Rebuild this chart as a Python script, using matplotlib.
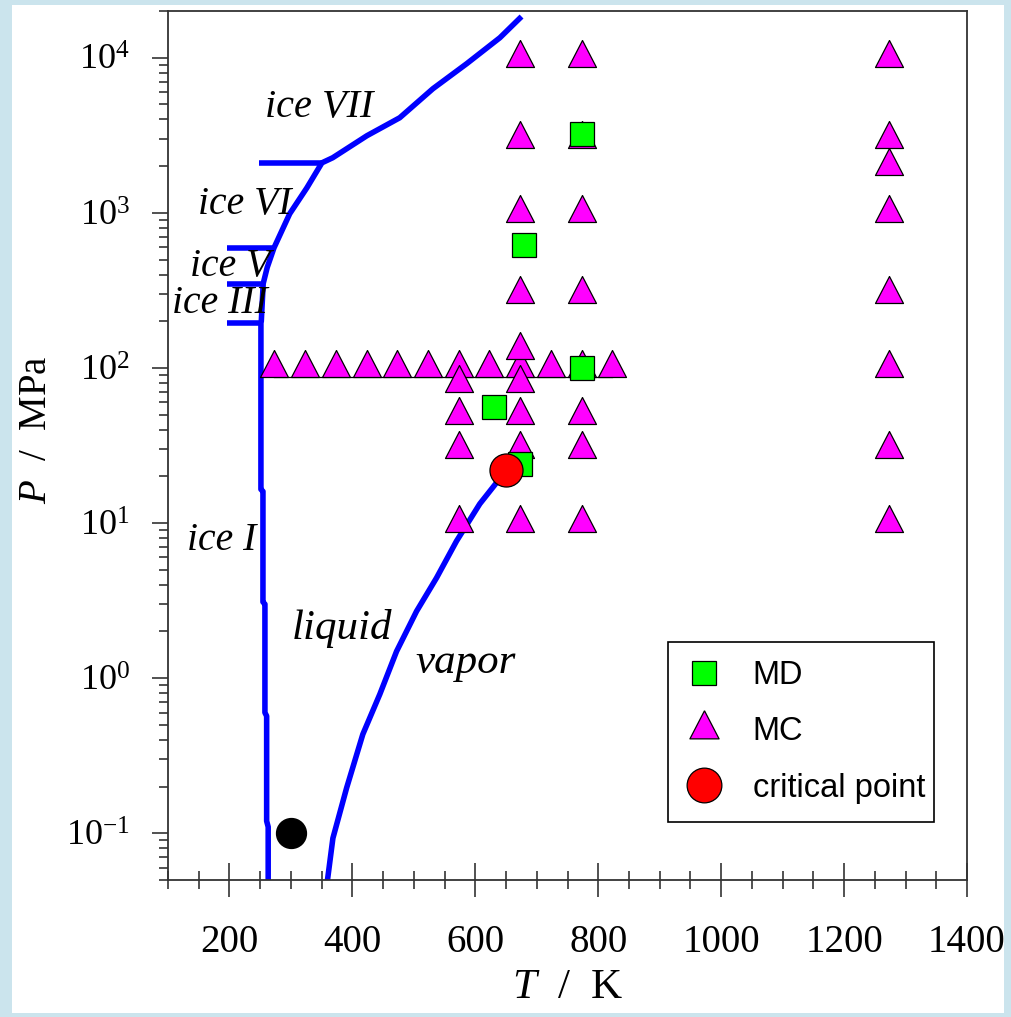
import numpy as np
import matplotlib
matplotlib.use("Agg")
import matplotlib.pyplot as plt
import matplotlib.transforms as mtransforms
from matplotlib.lines import Line2D
from matplotlib.patches import Rectangle
from matplotlib.ticker import MultipleLocator, LogLocator, NullFormatter

plt.rcParams["font.family"] = ["Liberation Serif", "DejaVu Serif"]
plt.rcParams["mathtext.fontset"] = "custom"
plt.rcParams["mathtext.rm"] = "Liberation Serif"
plt.rcParams["mathtext.it"] = "Liberation Serif:italic"

# ---- phase boundaries (T in K, P in MPa) ----
# melting line: ice I -> ice III -> ice V -> ice VI -> ice VII
melt_T = [263.0, 263.0, 260.5, 260.5, 257.7, 257.7, 254.5, 254.5, 251.2, 251.2,
          251.8, 254.9, 261.4, 272.4, 298.0, 326.0, 350.4, 368.0, 423.6, 477.0,
          531.0, 586.0, 640.0, 672.0]
melt_P = [0.045, 0.11, 0.12, 0.57, 0.60, 3.0, 3.1, 16.0, 16.5, 195.0,
          200.0, 350.0, 444.0, 594.0, 986.0, 1450.0, 2100.0, 2265.0, 3140.0, 4100.0,
          6310.0, 9150.0, 13450.0, 17900.0]

# triple-point isobars between the solid phases
triple_P = [195.0, 350.0, 594.0, 2100.0]
triple_T_lo = [195.4, 195.4, 195.4, 248.5]
triple_T_hi = [251.2, 254.9, 272.4, 350.4]

# liquid-vapor coexistence up to the critical point
vap_T = [358.0, 368.3, 390.6, 417.0, 444.7, 471.9, 504.4, 536.9, 569.4, 607.3, 634.5, 650.0]
vap_P = [0.045, 0.093, 0.196, 0.435, 0.789, 1.49, 2.70, 4.43, 7.65, 13.3, 18.2, 22.0]

# ---- simulated state points ----
mc_isobar_T = [273, 323, 373, 423, 473, 523, 573, 623, 673, 723, 773, 823]
mc_isobar_P = 100.0
mc_573_P = [80, 50, 30, 10]
mc_673_P = [10000, 3000, 1000, 300, 130, 80, 50, 30, 10]
mc_773_P = [10000, 3000, 1000, 300, 50, 30, 10]
mc_1273_P = [10000, 3000, 2000, 1000, 300, 100, 30, 10]

md_T = [773, 680, 773, 630, 673]
md_P = [3200, 620, 100, 56, 24]

crit_T, crit_P = 650.0, 22.0
ambient_T, ambient_P = 300.0, 0.1

x_ticks = [200, 400, 600, 800, 1000, 1200, 1400]

# ---- figure ----
fig = plt.figure(figsize=(10.12, 10.17), dpi=100)
fig.patch.set_facecolor("#cbe4ed")
W, H = 1012.0, 1017.0
fig.patches.append(Rectangle((12 / W, 1 - 1013 / H), (1004 - 12) / W, (1013 - 5) / H,
                             transform=fig.transFigure, facecolor="white",
                             edgecolor="none", zorder=-5))

ax = fig.add_axes([168 / W, 1 - 880 / H, (967 - 168) / W, (880 - 11) / H])
ax.set_facecolor("white")
ax.set_yscale("log")
ax.set_xlim(100, 1400)
ax.set_ylim(0.05, 2.0e4)

blue = "#0000ff"
lw_line = 4.0
ax.plot(melt_T, melt_P, color=blue, lw=lw_line, solid_joinstyle="round", zorder=2)
ax.plot(vap_T, vap_P, color=blue, lw=lw_line, solid_capstyle="butt", zorder=2)
for p, t0, t1 in zip(triple_P, triple_T_lo, triple_T_hi):
    ax.plot([t0, t1], [p, p], color=blue, lw=lw_line, solid_capstyle="butt", zorder=2)

# triangle marker centred on its centroid
tri = [(0, 2), (-1.556, -1), (1.556, -1), (0, 2)]
tri_kw = dict(marker=tri, ms=25.9, mfc="#ff00ff", mec="black", mew=0.9, ls="none", zorder=4)

# base line joining the isobar row of triangles
base_off = mtransforms.ScaledTranslation(0, -0.09, fig.dpi_scale_trans)
ax.plot([mc_isobar_T[0], mc_isobar_T[-1]], [mc_isobar_P, mc_isobar_P],
        color="black", lw=0.9, transform=ax.transData + base_off, zorder=3)

ax.plot(mc_isobar_T, [mc_isobar_P] * len(mc_isobar_T), **tri_kw)
ax.plot([573] * len(mc_573_P), mc_573_P, **tri_kw)
ax.plot([673] * len(mc_673_P), mc_673_P, **tri_kw)
ax.plot([773] * len(mc_773_P), mc_773_P, **tri_kw)
ax.plot([1273] * len(mc_1273_P), mc_1273_P, **tri_kw)

sq_kw = dict(marker="s", ms=17.3, mfc="#00ff00", mec="black", mew=0.9, ls="none", zorder=5)
ax.plot(md_T, md_P, **sq_kw)

ax.plot([crit_T], [crit_P], marker="o", ms=23.8, mfc="#ff0000", mec="black",
        mew=0.9, ls="none", zorder=6)
ax.plot([ambient_T], [ambient_P], marker="o", ms=21.5, mfc="black", mec="black",
        ls="none", zorder=6)

# phase labels
lab_kw = dict(fontstyle="italic", ha="left", va="baseline", color="black", zorder=7)
ax.text(257.8, 4160, "ice VII", fontsize=29, **lab_kw)
ax.text(148.8, 986, "ice VI", fontsize=28.5, **lab_kw)
ax.text(135.8, 393, "ice V", fontsize=28.5, **lab_kw)
ax.text(106.5, 226, "ice III", fontsize=28.5, **lab_kw)
ax.text(130.9, 6.7, "ice I", fontsize=28.5, **lab_kw)
ax.text(301.7, 1.79, "liquid", fontsize=31, **lab_kw)
ax.text(501.9, 1.08, "vapor", fontsize=31, **lab_kw)

# axes styling
spine_c = "#333333"
for s in ax.spines.values():
    s.set_color(spine_c)
    s.set_linewidth(1.3)

ax.xaxis.set_major_locator(plt.FixedLocator(x_ticks))
ax.xaxis.set_minor_locator(MultipleLocator(50))
ax.tick_params(axis="x", which="major", direction="inout", length=25, width=1.1,
               color="#222222", labelsize=28, pad=19)
ax.tick_params(axis="x", which="minor", direction="inout", length=13, width=1.1,
               color="#222222")
ax.yaxis.set_major_locator(LogLocator(base=10, numticks=20))
ax.yaxis.set_minor_locator(LogLocator(base=10, subs=np.arange(2, 10), numticks=20))
ax.yaxis.set_minor_formatter(NullFormatter())
ax.tick_params(axis="y", which="major", direction="out", length=11.5, width=1.1,
               color="#222222", labelsize=26, pad=16)
ax.tick_params(axis="y", which="minor", direction="out", length=6.5, width=1.1,
               color="#222222")
ax.tick_params(top=False, right=False)

ax.set_xlabel(r"$T$  /  K", fontsize=31)
ax.xaxis.label.set_va("center")
ax.xaxis.set_label_coords(0.5, (880 - 988) / 869)
ax.set_ylabel(r"$P$  /  MPa", fontsize=28)
ax.yaxis.label.set_va("center")
ax.yaxis.set_label_coords((36 - 168) / 799, (880 - 430) / 869)

# legend
handles = [
    Line2D([], [], marker="s", ms=17.3, mfc="#00ff00", mec="black", mew=0.9, ls="none"),
    Line2D([], [], marker=tri, ms=27, mfc="#ff00ff", mec="black", mew=0.9, ls="none"),
    Line2D([], [], marker="o", ms=25, mfc="#ff0000", mec="black", mew=0.9, ls="none"),
]
leg_x0, leg_x1 = (668 - 168) / 799, (934 - 168) / 799
leg_y0, leg_y1 = (880 - 819) / 869, (880 - 642) / 869
leg = ax.legend(handles, ["MD", "MC", "critical point"], loc="upper left",
                bbox_to_anchor=(leg_x0, leg_y0, leg_x1 - leg_x0, leg_y1 - leg_y0),
                mode="expand", borderaxespad=0, frameon=True, fancybox=False,
                framealpha=1, edgecolor="black",
                prop={"family": "Liberation Sans", "size": 23.5},
                labelspacing=0.78, borderpad=0.55, handlelength=1.1,
                handletextpad=0.95)
leg.get_frame().set_linewidth(1.2)
leg.set_zorder(8)

fig.savefig("out.png", dpi=100, facecolor=fig.get_facecolor())
